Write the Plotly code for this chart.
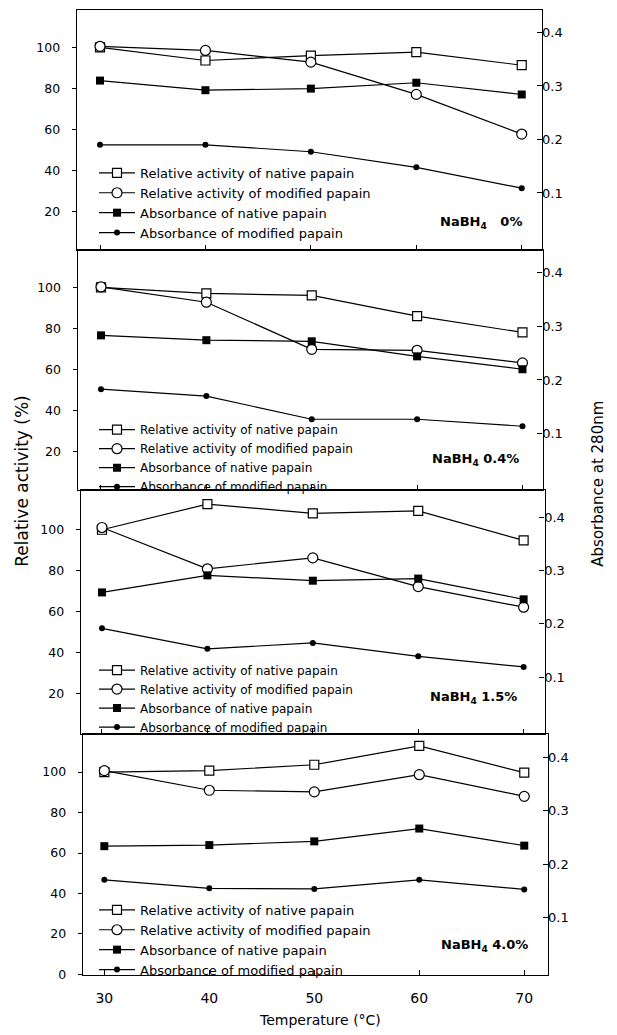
import plotly.graph_objects as go

# ---------------- data ----------------
temperature = [30, 40, 50, 60, 70]
panel_labels = ["NaBH<sub>4</sub>\u00a0\u00a0 0%", "NaBH<sub>4</sub> 0.4%", "NaBH<sub>4</sub> 1.5%", "NaBH<sub>4</sub> 4.0%"]

# Relative activity (%) -- left axis
act_native_0 = [100, 93.6, 96.0, 97.7, 91.3]
act_mod_0 = [100.5, 98.5, 92.8, 77.1, 57.8]
act_native_04 = [100, 97.1, 96.1, 86.0, 78.1]
act_mod_04 = [100.3, 92.8, 69.9, 69.4, 63.3]
act_native_15 = [99.7, 112.2, 107.7, 108.9, 94.5]
act_mod_15 = [100.8, 80.7, 86.0, 72.0, 62.0]
act_native_40 = [100, 100.7, 103.6, 112.9, 99.7]
act_mod_40 = [100.7, 91.0, 90.2, 98.7, 88.0]

# Absorbance at 280 nm -- right axis
abs_native_0 = [0.310, 0.292, 0.295, 0.306, 0.284]
abs_mod_0 = [0.190, 0.190, 0.177, 0.148, 0.109]
abs_native_04 = [0.283, 0.274, 0.272, 0.244, 0.220]
abs_mod_04 = [0.183, 0.170, 0.127, 0.127, 0.114]
abs_native_15 = [0.259, 0.291, 0.281, 0.285, 0.246]
abs_mod_15 = [0.1915, 0.153, 0.164, 0.139, 0.119]
abs_native_40 = [0.234, 0.236, 0.243, 0.267, 0.235]
abs_mod_40 = [0.171, 0.155, 0.154, 0.171, 0.153]

series_names = ["Relative activity of native papain", "Relative activity of modified papain",
                "Absorbance of native papain", "Absorbance of modified papain"]

panels = [
    (act_native_0, act_mod_0, abs_native_0, abs_mod_0),
    (act_native_04, act_mod_04, abs_native_04, abs_mod_04),
    (act_native_15, act_mod_15, abs_native_15, abs_mod_15),
    (act_native_40, act_mod_40, abs_native_40, abs_mod_40),
]

left_ticks_upper = [20, 40, 60, 80, 100]
left_ticks_bottom = [0, 20, 40, 60, 80, 100]
right_ticks = [0.1, 0.2, 0.3, 0.4]
x_ticks = [30, 40, 50, 60, 70]

# ---------------- layout config (pixels) ----------------
W, H = 617, 1035
frames = [  # (x0, x1, ytop, ybottom) in px
    (76.7, 542.3, 10.0, 251.7),
    (77.6, 542.5, 251.7, 493.0),
    (80.7, 544.5, 493.0, 739.0),
    (82.7, 548.3, 739.0, 981.7),
]
x_ranges = [(27.79, 71.95), (27.78, 71.9), (27.98, 71.98), (27.94, 72.29)]
left_ranges = [(1.4, 118.2), (1.6, 118.2), (0.3, 119.2), (-0.3, 118.8)]
right_ranges = [(-0.0065, 0.442), (-0.004, 0.4418), (-0.007, 0.452), (-0.0073, 0.444)]
legend_pos = [(94, 159), (94, 418), (94, 660), (94, 901)]  # px of legend top-left
legend_font = [13, 12, 12, 13]
label_pos = [(524, 224), (521, 463), (519, 702), (530, 952)]  # right edge, center y

def px_x(v):
    return v / W

def px_y(v):
    return 1 - v / H

FONT = "DejaVu Sans, Liberation Sans, Arial, sans-serif"

fig = go.Figure()
layout = dict(
    width=W, height=H,
    margin=dict(l=0, r=0, t=0, b=0),
    paper_bgcolor="white", plot_bgcolor="white",
    font=dict(family=FONT, size=13, color="black"),
    annotations=[],
)

styles = [
    dict(symbol="square", size=9, color="white", line=dict(color="black", width=1.2)),
    dict(symbol="circle", size=10, color="white", line=dict(color="black", width=1.2)),
    dict(symbol="square", size=8, color="black", line=dict(color="black", width=0)),
    dict(symbol="circle", size=6, color="black", line=dict(color="black", width=0)),
]

for i, (an, am, bn, bm) in enumerate(panels):
    k = i + 1
    xa = "x" if k == 1 else f"x{k}"
    yl_n = 2 * i + 1
    yr_n = 2 * i + 2
    yl = "y" if yl_n == 1 else f"y{yl_n}"
    yr = f"y{yr_n}"
    leg = "legend" if k == 1 else f"legend{k}"
    ys = [an, am, bn, bm]
    yaxes = [yl, yl, yr, yr]
    for j in range(4):
        fig.add_trace(go.Scatter(
            x=temperature, y=ys[j], xaxis=xa, yaxis=yaxes[j],
            mode="lines+markers", name=series_names[j],
            line=dict(color="black", width=1.2),
            marker=styles[j], legend=leg, showlegend=True,
            cliponaxis=False,
        ))
    x0, x1, yt, yb = frames[i]
    xkey = "xaxis" if k == 1 else f"xaxis{k}"
    ylkey = "yaxis" if yl_n == 1 else f"yaxis{yl_n}"
    yrkey = f"yaxis{yr_n}"
    layout[xkey] = dict(
        domain=[px_x(x0), px_x(x1)], anchor=yl, range=list(x_ranges[i]),
        tickvals=x_ticks, ticks="inside", ticklen=5, tickwidth=1, tickcolor="black",
        showticklabels=(k == 4), tickfont=dict(size=14), ticklabelstandoff=10,
        showline=True, linecolor="black", linewidth=1.2, mirror=True,
        showgrid=False, zeroline=False, fixedrange=True,
    )
    layout[ylkey] = dict(
        domain=[px_y(yb), px_y(yt)], anchor=xa, range=list(left_ranges[i]),
        tickvals=(left_ticks_bottom if k == 4 else left_ticks_upper),
        ticks="outside", ticklen=4, tickwidth=1, tickcolor="black",
        tickfont=dict(size=12.5), ticklabelstandoff=9,
        showline=True, linecolor="black", linewidth=1.2,
        showgrid=False, zeroline=False, fixedrange=True,
    )
    layout[yrkey] = dict(
        domain=[px_y(yb), px_y(yt)], anchor=xa, overlaying=yl, side="right",
        range=list(right_ranges[i]), tickvals=right_ticks,
        tickformat=".1f", ticks="inside", ticklen=5, tickwidth=1, tickcolor="black",
        tickfont=dict(size=13), ticklabelstandoff=-4,
        showline=True, linecolor="black", linewidth=1.2,
        showgrid=False, zeroline=False, fixedrange=True,
    )
    lx, ly = legend_pos[i]
    layout[leg] = dict(
        x=px_x(lx), y=px_y(ly), xanchor="left", yanchor="top",
        xref="paper", yref="paper",
        bgcolor="rgba(0,0,0,0)", borderwidth=0,
        font=dict(size=legend_font[i], family=FONT, color="black"),
        tracegroupgap=0, itemwidth=36,
    )
    ax_, ay_ = label_pos[i]
    layout["annotations"].append(dict(
        x=px_x(ax_), y=px_y(ay_), xref="paper", yref="paper",
        xanchor="right", yanchor="middle", showarrow=False,
        text=f"<b>{panel_labels[i]}</b>", font=dict(size=13, family=FONT, color="black"),
    ))

layout["annotations"] += [
    dict(x=px_x(22), y=px_y(485), xref="paper", yref="paper", showarrow=False,
         text="Relative activity (%)", textangle=-90,
         font=dict(size=17, family=FONT, color="black"), xanchor="center", yanchor="middle"),
    dict(x=px_x(598), y=px_y(487), xref="paper", yref="paper", showarrow=False,
         text="Absorbance at 280nm", textangle=-90,
         font=dict(size=15, family=FONT, color="black"), xanchor="center", yanchor="middle"),
    dict(x=px_x(320), y=px_y(1027), xref="paper", yref="paper", showarrow=False,
         text="Temperature (°C)", font=dict(size=14, family=FONT, color="black"),
         xanchor="center", yanchor="middle"),
]

fig.update_layout(**layout)
fig.write_html("out.html", config={"displayModeBar": False},
               post_script="document.body.style.margin='0px';")
